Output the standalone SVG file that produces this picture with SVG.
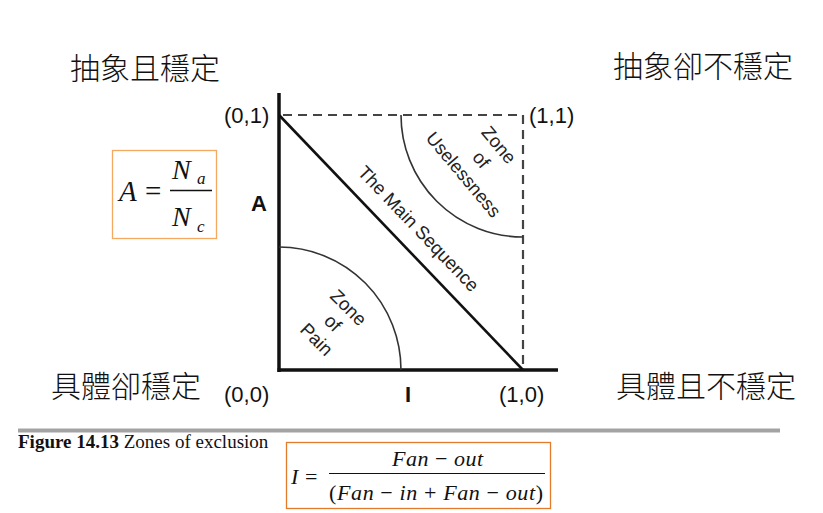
<svg xmlns="http://www.w3.org/2000/svg" width="823" height="513" viewBox="0 0 823 513">
<style>
.cjk{font-family:"Noto Sans CJK TC","Noto Sans CJK SC",sans-serif;font-size:30px;font-weight:300;fill:#111}
.ax{font-family:"Liberation Sans",Arial,sans-serif;font-size:22px;fill:#111}
.zn{font-family:"Liberation Sans",Arial,sans-serif;font-size:18.5px;fill:#222;text-anchor:middle}
.m{font-family:"Liberation Serif","Times New Roman",serif;font-style:italic;fill:#111}
.mu{font-family:"Liberation Serif","Times New Roman",serif;font-style:normal;fill:#111}
.dash{stroke:#444;stroke-width:2.2;stroke-dasharray:9 6;fill:none}
.arc{stroke:#333;stroke-width:1.6;fill:none}
</style>
<rect width="823" height="513" fill="#fff"/>
<g id="quadrant-labels">
<text class="cjk" x="70" y="79">抽象且穩定</text>
<text class="cjk" x="613" y="77">抽象卻不穩定</text>
<text class="cjk" x="51" y="397">具體卻穩定</text>
<text class="cjk" x="616" y="397">具體且不穩定</text>
</g>
<g id="connectors">
<line x1="279" y1="93" x2="279" y2="372" stroke="#111" stroke-width="3.5"/>
<line x1="277.5" y1="370" x2="558" y2="370" stroke="#111" stroke-width="3.5"/>
<line x1="283" y1="115" x2="523" y2="115" class="dash"/>
<line x1="523" y1="115" x2="523" y2="368" class="dash"/>
<line x1="279" y1="115" x2="523" y2="370" stroke="#111" stroke-width="2.6"/>
<path class="arc" d="M279,247 A122,123 0 0 1 401,370"/>
<path class="arc" d="M401,115 A122,122 0 0 0 523,237"/>
</g>
<g id="axis-labels">
<text class="ax" x="224" y="123">(0,1)</text>
<text class="ax" x="529" y="123">(1,1)</text>
<text class="ax" x="251" y="211" font-weight="bold">A</text>
<text class="ax" x="224" y="402">(0,0)</text>
<text class="ax" x="405" y="402" font-weight="bold">I</text>
<text class="ax" x="499" y="402">(1,0)</text>
</g>
<g id="main-sequence">
<text class="zn" font-size="19.5" transform="translate(414,233) rotate(46.3)" x="0" y="0">The Main Sequence</text>
</g>
<g id="zone-of-pain" transform="translate(344,312) rotate(45)">
<text class="zn" x="0" y="0">Zone</text>
<text class="zn" x="0" y="22">of</text>
<text class="zn" x="0" y="45">Pain</text>
</g>
<g id="zone-of-uselessness" transform="translate(494,149) rotate(50)">
<text class="zn" x="0" y="0">Zone</text>
<text class="zn" x="0" y="23">of</text>
<text class="zn" x="0" y="46">Uselessness</text>
</g>
<g id="formula-a">
<rect x="112.5" y="150.5" width="104" height="88" fill="none" stroke="#f4a860" stroke-width="1.3"/>
<text class="m" x="119" y="201" font-size="29">A</text>
<text class="mu" x="145" y="201" font-size="29">=</text>
<text class="m" x="172" y="179" font-size="28">N</text>
<text class="m" x="197" y="184" font-size="17">a</text>
<line x1="170" y1="190.5" x2="212" y2="190.5" stroke="#111" stroke-width="1.3"/>
<text class="m" x="172" y="226" font-size="28">N</text>
<text class="m" x="197" y="232" font-size="17">c</text>
</g>
<g id="caption">
<line x1="18" y1="430.5" x2="780" y2="430.5" stroke="#a3a3a3" stroke-width="4"/>
<text x="18" y="448" font-family="'Liberation Serif','Times New Roman',serif" font-size="19" fill="#111"><tspan font-weight="bold">Figure 14.13</tspan> Zones of exclusion</text>
</g>
<g id="formula-i">
<rect x="286.5" y="442.5" width="264" height="66" fill="none" stroke="#e27b2c" stroke-width="1.3"/>
<text class="m" x="291" y="484" font-size="22">I</text>
<text class="mu" x="305" y="484" font-size="22">=</text>
<text class="m" x="392" y="466" font-size="22" textLength="91" lengthAdjust="spacing">Fan <tspan class="mu">−</tspan> out</text>
<line x1="329" y1="473.5" x2="545" y2="473.5" stroke="#111" stroke-width="1.2"/>
<text class="m" x="329" y="500" font-size="22" textLength="214" lengthAdjust="spacing"><tspan class="mu">(</tspan>Fan <tspan class="mu">−</tspan> in <tspan class="mu">+</tspan> Fan <tspan class="mu">−</tspan> out<tspan class="mu">)</tspan></text>
</g>
</svg>
